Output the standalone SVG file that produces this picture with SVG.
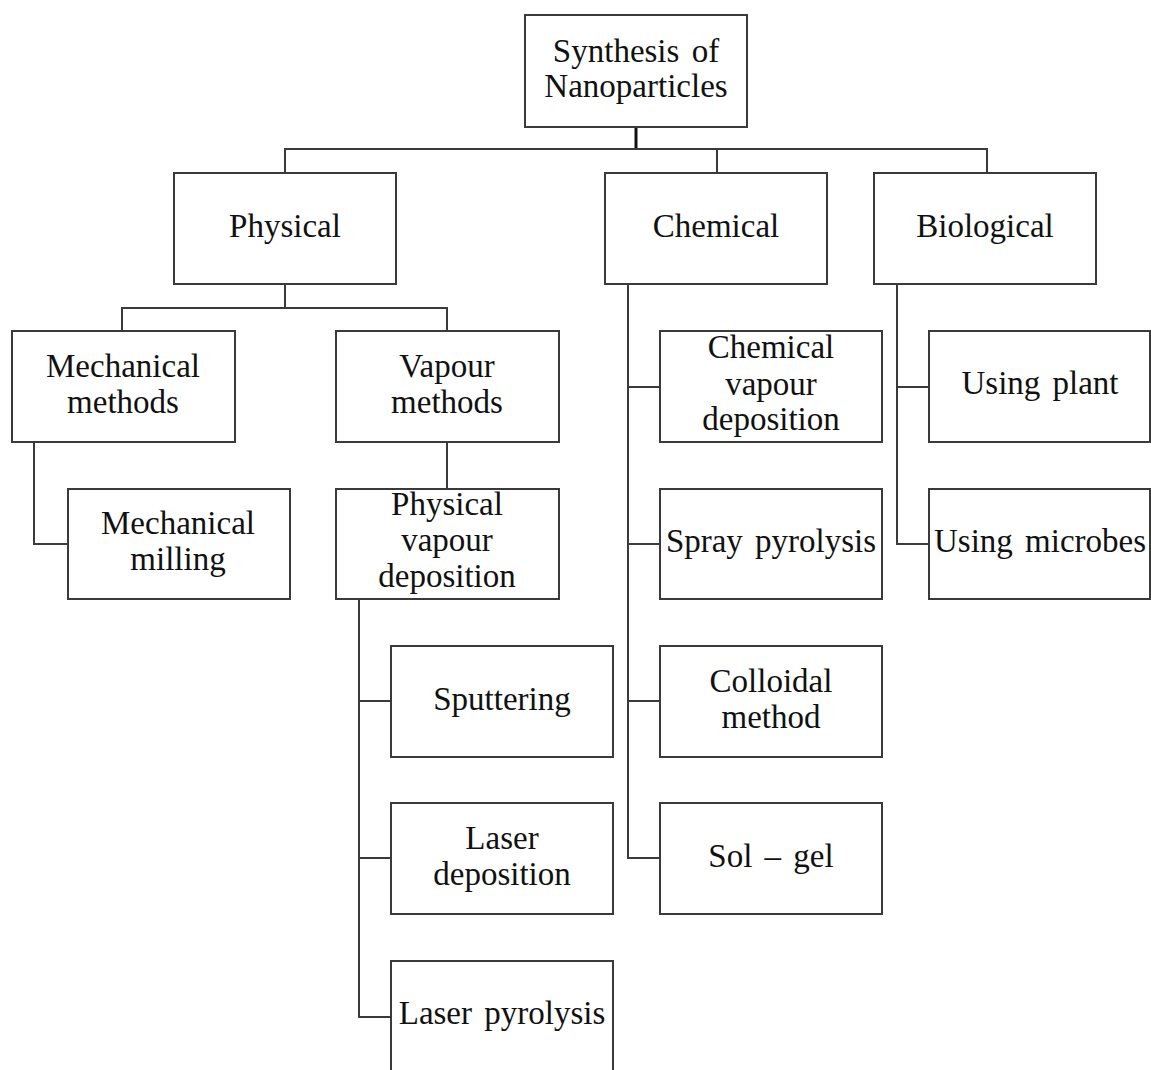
<svg xmlns="http://www.w3.org/2000/svg" width="1151" height="1070" viewBox="0 0 1151 1070">
<style>
.box{fill:#fff;stroke:#3a3a3a;stroke-width:2}
.t{font-family:"Liberation Serif","Times New Roman",serif;font-size:33px;fill:#111;text-anchor:middle;word-spacing:4px}
.c{fill:none;stroke:#3a3a3a;stroke-width:2}
</style>
<rect width="1151" height="1070" fill="#fff"/>
<g id="connectors">
<path class="c" d="M636 127V149" style="stroke:#111;stroke-width:3"/>
<path class="c" d="M285 173V149H987V173M717 149V173"/>
<path class="c" d="M285 284V308M122 331V308H447V331"/>
<path class="c" d="M34 442V544H68"/>
<path class="c" d="M447 442V489"/>
<path class="c" d="M359 599V1017H391M359 701H391M359 858H391"/>
<path class="c" d="M628 284V858H660M628 387H660M628 544H660M628 701H660"/>
<path class="c" d="M897 284V544H929M897 387H929"/>
</g>
<g id="root"><rect class="box" x="525" y="15" width="222" height="112"/><text class="t" x="636" y="62">Synthesis of</text><text class="t" x="636" y="97">Nanoparticles</text></g>
<g id="physical"><rect class="box" x="174" y="173" width="222" height="111"/><text class="t" x="285" y="237">Physical</text></g>
<g id="chemical"><rect class="box" x="605" y="173" width="222" height="111"/><text class="t" x="716" y="237">Chemical</text></g>
<g id="biological"><rect class="box" x="874" y="173" width="222" height="111"/><text class="t" x="985" y="237">Biological</text></g>
<g id="mech-methods"><rect class="box" x="12" y="331" width="223" height="111"/><text class="t" x="123" y="377">Mechanical</text><text class="t" x="123" y="413">methods</text></g>
<g id="vapour-methods"><rect class="box" x="336" y="331" width="223" height="111"/><text class="t" x="447" y="377">Vapour</text><text class="t" x="447" y="413">methods</text></g>
<g id="mech-milling"><rect class="box" x="68" y="489" width="222" height="110"/><text class="t" x="178" y="534">Mechanical</text><text class="t" x="178" y="570">milling</text></g>
<g id="pvd"><rect class="box" x="336" y="489" width="223" height="110"/><text class="t" x="447" y="515">Physical</text><text class="t" x="447" y="551">vapour</text><text class="t" x="447" y="587">deposition</text></g>
<g id="sputtering"><rect class="box" x="391" y="646" width="222" height="111"/><text class="t" x="502" y="710">Sputtering</text></g>
<g id="laser-deposition"><rect class="box" x="391" y="803" width="222" height="111"/><text class="t" x="502" y="849">Laser</text><text class="t" x="502" y="885">deposition</text></g>
<g id="laser-pyrolysis"><rect class="box" x="391" y="961" width="222" height="111"/><text class="t" x="502" y="1024">Laser pyrolysis</text></g>
<g id="cvd"><rect class="box" x="660" y="331" width="222" height="111"/><text class="t" x="771" y="358">Chemical</text><text class="t" x="771" y="395">vapour</text><text class="t" x="771" y="430">deposition</text></g>
<g id="spray"><rect class="box" x="660" y="489" width="222" height="110"/><text class="t" x="771" y="552">Spray pyrolysis</text></g>
<g id="colloidal"><rect class="box" x="660" y="646" width="222" height="111"/><text class="t" x="771" y="692">Colloidal</text><text class="t" x="771" y="728">method</text></g>
<g id="solgel"><rect class="box" x="660" y="803" width="222" height="111"/><text class="t" x="771" y="867">Sol – gel</text></g>
<g id="plant"><rect class="box" x="929" y="331" width="221" height="111"/><text class="t" x="1040" y="394">Using plant</text></g>
<g id="microbes"><rect class="box" x="929" y="489" width="221" height="110"/><text class="t" x="1040" y="552">Using microbes</text></g>
</svg>
